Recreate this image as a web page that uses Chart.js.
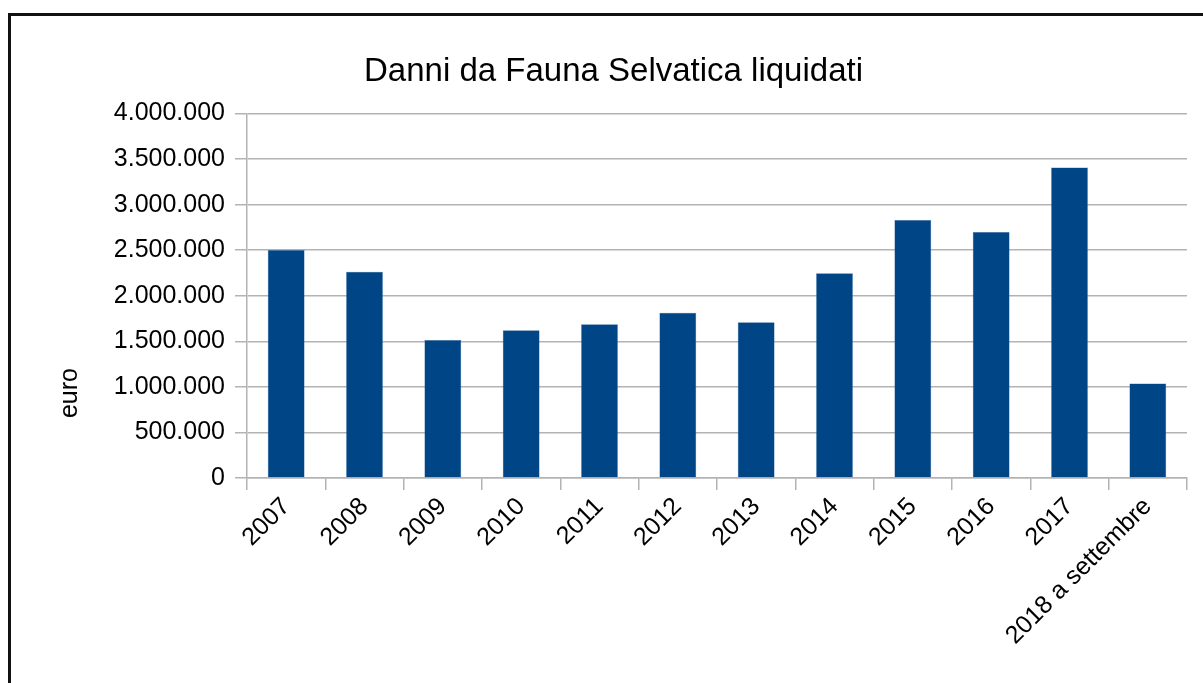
<!DOCTYPE html>
<html>
<head>
<meta charset="utf-8">
<script src="https://cdn.jsdelivr.net/npm/chart.js@4.4.0/dist/chart.umd.min.js"></script>
<style>
  html, body { margin: 0; padding: 0; background: #fff; overflow: hidden; }
  #frame {
    position: absolute; left: 8px; top: 13px; width: 1400px; height: 900px;
    border-left: 3px solid #111; border-top: 3px solid #111;
  }
  #wrap { position: absolute; left: 0; top: 0; width: 1203px; height: 683px; }
</style>
</head>
<body>
<div id="frame"></div>
<div id="wrap"><canvas id="chart"></canvas></div>
<script>
const years = ['2007', '2008', '2009', '2010', '2011', '2012', '2013', '2014', '2015', '2016', '2017', '2018 a settembre'];
const damages = [2502000, 2264000, 1516000, 1622000, 1688000, 1815000, 1710000, 2247000, 2831000, 2699000, 3408000, 1037000];
const yTicks = [0, 500000, 1000000, 1500000, 2000000, 2500000, 3000000, 3500000, 4000000];
const yTitle = 'euro';

const FONT = 'Liberation Sans, Arial, sans-serif';
const GRID = '#b3b3b3';

// Italian thousands separator: 4.000.000
function formatEuro(value) {
  return String(Math.round(value)).replace(/\B(?=(\d{3})+(?!\d))/g, '.');
}

// The axis title sits low on the axis, below its middle, so draw it by hand.
const axisTitlePlugin = {
  id: 'axisTitle',
  afterDraw(chart) {
    const { ctx, chartArea } = chart;
    const y = chartArea.top + (chartArea.bottom - chartArea.top) * 0.767;
    ctx.save();
    ctx.translate(70, y);
    ctx.rotate(-Math.PI / 2);
    ctx.fillStyle = '#000';
    ctx.font = `25px ${FONT}`;
    ctx.textAlign = 'center';
    ctx.textBaseline = 'middle';
    ctx.fillText(yTitle, 0, 0);
    ctx.restore();
  },
};

new Chart(document.getElementById('chart').getContext('2d'), {
  type: 'bar',
  data: {
    labels: years,
    datasets: [{
      data: damages,
      backgroundColor: '#004586',
      borderColor: '#3a6fa5',
      borderWidth: 0.5,
      categoryPercentage: 1,
      barPercentage: 0.47,
    }],
  },
  plugins: [axisTitlePlugin],
  options: {
    responsive: true,
    maintainAspectRatio: false,
    animation: false,
    layout: { padding: { left: 40, right: 16, top: 0, bottom: 0 } },
    plugins: {
      legend: { display: false },
      tooltip: { enabled: false },
      title: {
        display: true,
        text: 'Danni da Fauna Selvatica liquidati',
        color: '#000',
        font: { family: FONT, size: 33, weight: 'normal' },
        padding: { top: 52, bottom: 22 },
      },
    },
    scales: {
      x: {
        afterFit: (scale) => { scale.height = 205; },
        grid: {
          offset: true,
          drawOnChartArea: true,
          color: (ctx) => (ctx.index === years.length ? GRID : 'rgba(0,0,0,0)'),
          tickColor: GRID,
          tickLength: 12,
          lineWidth: 1.5,
        },
        border: { color: GRID, width: 1.5 },
        ticks: {
          color: '#000',
          font: { family: FONT, size: 25 },
          minRotation: 45,
          maxRotation: 45,
          autoSkip: false,
          padding: 2,
        },
      },
      y: {
        min: 0,
        max: 4000000,
        afterFit: (scale) => { scale.width = 207; },
        afterBuildTicks: (scale) => { scale.ticks = yTicks.map((value) => ({ value })); },
        grid: { color: GRID, tickColor: GRID, tickLength: 12, lineWidth: 1.5 },
        border: { color: GRID, width: 1.5 },
        ticks: {
          color: '#000',
          font: { family: FONT, size: 25 },
          padding: 10,
          callback: (value) => formatEuro(value),
        },
      },
    },
  },
});
</script>
</body>
</html>
